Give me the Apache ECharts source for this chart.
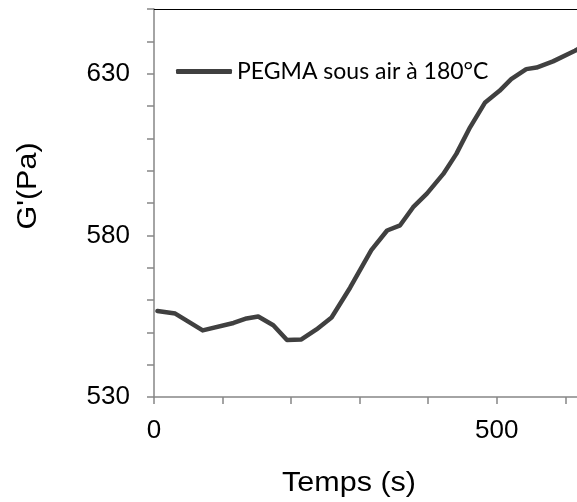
<!DOCTYPE html>
<html><head><meta charset="utf-8">
<script src="https://cdn.jsdelivr.net/npm/echarts@6/dist/echarts.min.js"></script>
<style>html,body{margin:0;padding:0;background:#fff}#c{width:577px;height:502px}</style>
</head><body><div id="c"></div>
<script>
const seriesName = 'PEGMA sous air à 180°C';
const timeValues = [5, 31, 71, 116, 135, 152, 174, 194, 215, 237, 259, 286, 317, 340, 359, 378, 398, 422, 441, 461, 483, 504, 521, 543, 558, 582, 614, 620];
const gValues = [556.6, 555.8, 550.6, 552.9, 554.3, 554.9, 552.2, 547.6, 547.8, 550.9, 554.6, 563.8, 575.4, 581.5, 583.1, 588.7, 592.9, 599.0, 605.2, 613.4, 621.1, 624.7, 628.3, 631.4, 631.9, 633.8, 637.1, 637.8];
const xLabelValues = [0, 500];
const yLabelValues = [530, 580, 630];
const xTitle = 'Temps (s)';
const yTitle = "G'(Pa)";

const chart = echarts.init(document.getElementById('c'), null, {renderer: 'canvas'});
const axisGray = '#868686';
chart.setOption({
  animation: false,
  grid: {left: 154, top: 9, right: 0, bottom: 105, containLabel: false},
  legend: {
    show: true, left: 176, top: 60, padding: 0, icon: 'roundRect', itemWidth: 56, itemHeight: 5,
    itemStyle: {color: '#404040'},
    textStyle: {fontFamily: 'Lato', fontSize: 23, color: '#000'},
    data: [seriesName]
  },
  xAxis: [{
    type: 'value', min: 0, max: 617, interval: 100,
    axisLine: {show: true, lineStyle: {color: axisGray, width: 1.5}},
    axisTick: {show: true, length: 7, lineStyle: {color: axisGray, width: 1.5}},
    axisLabel: {show: true, margin: 21, fontFamily: 'Liberation Sans', fontSize: 26, color: '#000',
      showMaxLabel: false,
      formatter: v => xLabelValues.includes(v) ? String(v) : ''},
    splitLine: {show: false}
  }, {
    type: 'value', position: 'top', min: 0, max: 617,
    axisLine: {show: true, onZero: false, lineStyle: {color: '#000', width: 1}},
    axisTick: {show: false}, axisLabel: {show: false}, splitLine: {show: false}
  }],
  yAxis: {
    type: 'value', min: 530, max: 650, interval: 10,
    axisLine: {show: true, lineStyle: {color: axisGray, width: 1.5}},
    axisTick: {show: true, length: 7, lineStyle: {color: axisGray, width: 1.5}},
    axisLabel: {show: true, margin: 24, fontFamily: 'Liberation Sans', fontSize: 26, color: '#000',
      formatter: v => yLabelValues.includes(v) ? String(v) : ''},
    splitLine: {show: false}
  },
  graphic: [
    {type: 'text', x: 349, y: 484, scaleX: 1.13, style: {text: xTitle, font: '27px "Liberation Sans"', fill: '#000', textAlign: 'center', textVerticalAlign: 'middle'}},
    {type: 'text', rotation: Math.PI / 2, x: 29, y: 186, scaleX: 1.13, style: {text: yTitle, font: '27px "Liberation Sans"', fill: '#000', textAlign: 'center', textVerticalAlign: 'middle'}}
  ],
  series: [{
    name: seriesName, type: 'line', xAxisIndex: 0,
    data: timeValues.map((t, i) => [t, gValues[i]]),
    showSymbol: false, symbol: 'none',
    lineStyle: {color: '#404040', width: 4.5, join: 'round', cap: 'round'},
    itemStyle: {color: '#404040'}
  }]
});
</script></body></html>
